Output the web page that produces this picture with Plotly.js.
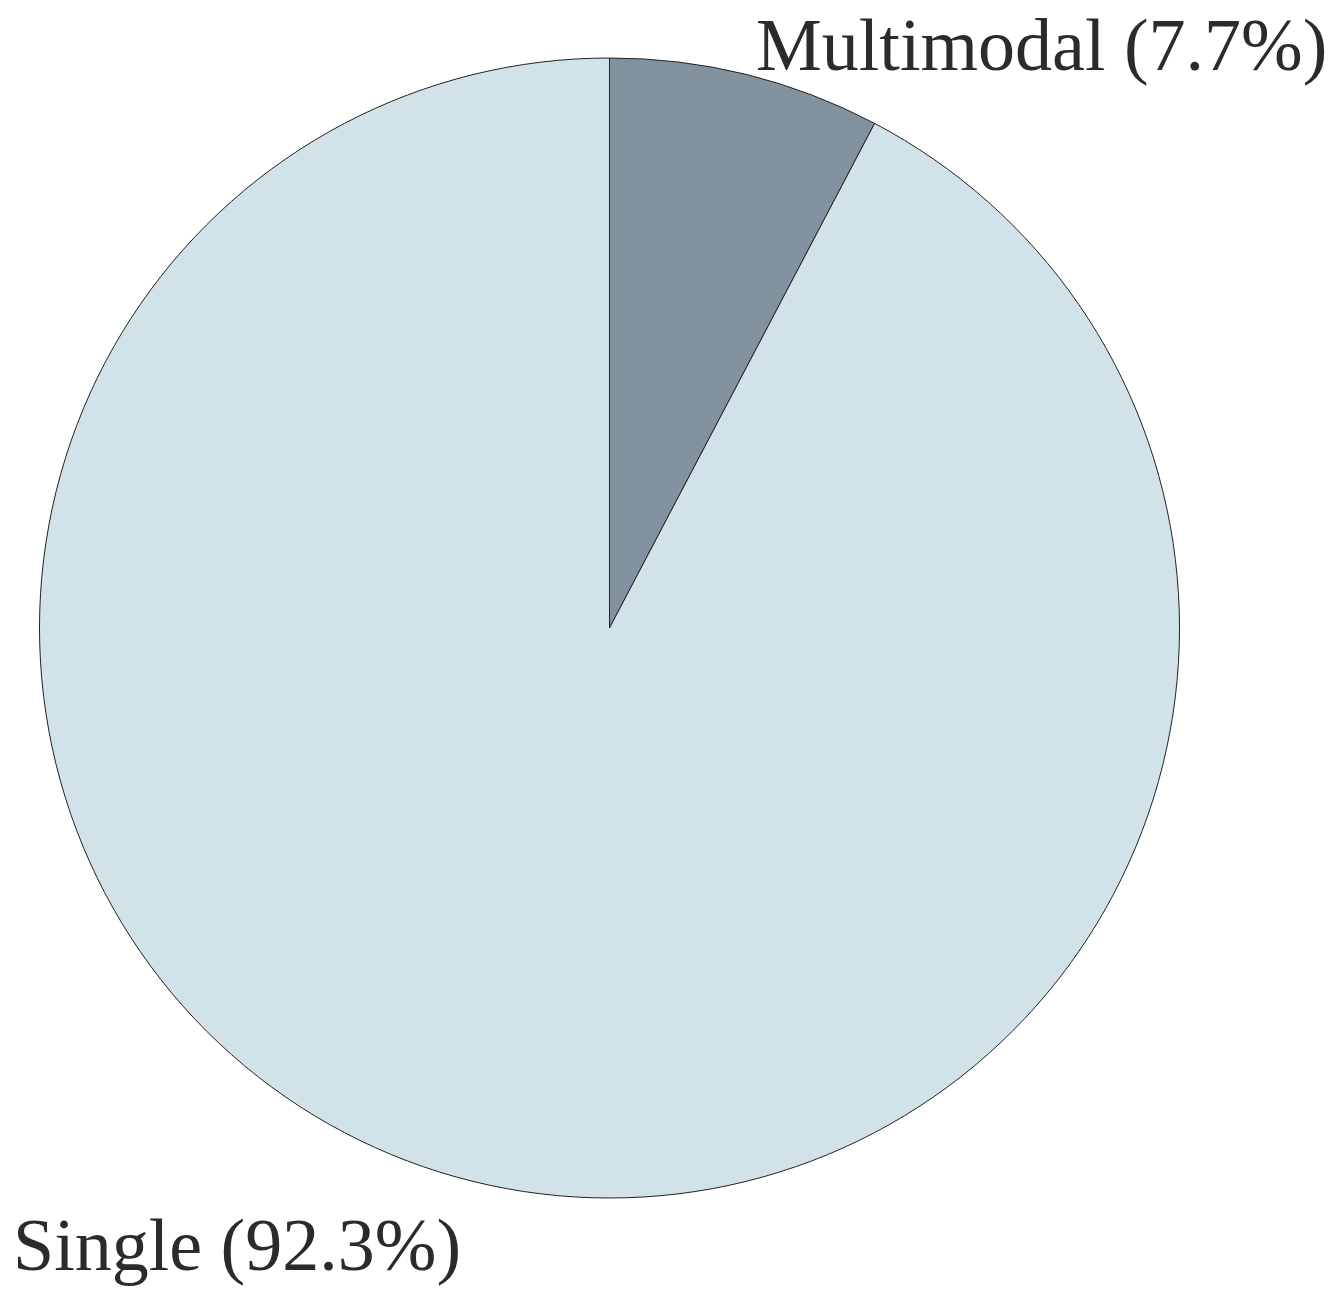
<!DOCTYPE html>
<html>
<head>
<meta charset="utf-8">
<script src="https://cdn.plot.ly/plotly-3.0.1.min.js"></script>
<style>html,body{margin:0;padding:0;background:#fff;}#chart{width:1337px;height:1307px;}</style>
</head>
<body>
<div id="chart"></div>
<script>
const categories = ["Multimodal", "Single"];
const values = [7.7, 92.3];
const sliceColors = ["#83929f", "#d1e3e9"];

const W = 1337, H = 1307;
const cx = 609.5, cy = 628, r = 570;

const trace = {
  type: "pie",
  labels: categories,
  values: values,
  sort: false,
  direction: "clockwise",
  rotation: 0,
  textinfo: "none",
  hoverinfo: "label+percent",
  marker: { colors: sliceColors, line: { color: "#222222", width: 1 } },
  domain: {
    x: [(cx - r) / W, (cx + r) / W],
    y: [(H - cy - r) / H, (H - cy + r) / H]
  },
  showlegend: false
};

const font = { family: "Liberation Serif, Times New Roman, serif", size: 74, color: "#2b2b2b" };
const layout = {
  width: W, height: H,
  margin: { l: 0, r: 0, t: 0, b: 0 },
  paper_bgcolor: "#ffffff",
  showlegend: false,
  annotations: [
    { text: categories[0] + " (" + values[0].toFixed(1) + "%)", xref: "paper", yref: "paper",
      x: 1329 / W, y: 1 - 45 / H, xanchor: "right", yanchor: "middle", showarrow: false, font: font },
    { text: categories[1] + " (" + values[1].toFixed(1) + "%)", xref: "paper", yref: "paper",
      x: 11 / W, y: 1 - 1245 / H, xanchor: "left", yanchor: "middle", showarrow: false, font: font }
  ]
};

Plotly.newPlot("chart", [trace], layout, { displayModeBar: false, staticPlot: true });
</script>
</body>
</html>
